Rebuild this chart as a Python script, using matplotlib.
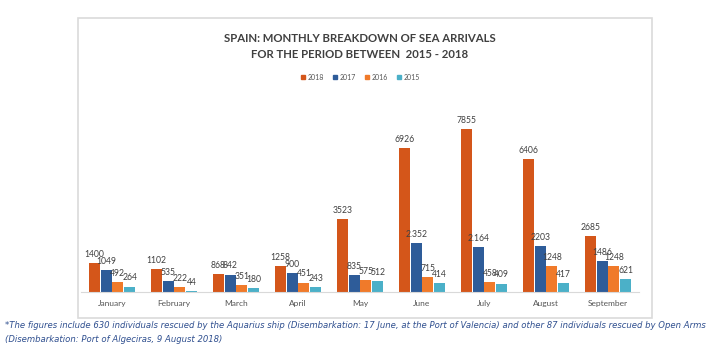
import matplotlib
matplotlib.use("Agg")
import matplotlib.pyplot as plt
from matplotlib.patches import Rectangle
import numpy as np

months = ["January", "February", "March", "April", "May", "June", "July", "August", "September"]
years = ["2018", "2017", "2016", "2015"]
v2018 = [1400, 1102, 868, 1258, 3523, 6926, 7855, 6406, 2685]
v2017 = [1049, 535, 842, 900, 835, 2352, 2164, 2203, 1486]
v2016 = [492, 222, 351, 451, 575, 715, 458, 1248, 1248]
v2015 = [264, 44, 180, 243, 512, 414, 409, 417, 621]
labels2017 = ["1049", "535", "842", "900", "835", "2.352", "2.164", "2203", "1486"]

series = [v2018, v2017, v2016, v2015]
colors = ["#D4561A", "#2E5C99", "#F07A2A", "#4BB0C8"]

plt.rcParams['font.family'] = ['Lato', 'DejaVu Sans']

fig = plt.figure(figsize=(7.2, 3.55), dpi=100)
W, H = 720, 355

# frame
fig.patches.append(Rectangle((78 / W, 1 - 318 / H), (652 - 78) / W, (318 - 18) / H,
                             transform=fig.transFigure, fill=False,
                             edgecolor="#DADADA", linewidth=1.2))

ax = fig.add_axes([81 / W, (H - 292) / H, 558 / W, 192 / H])
x = np.arange(len(months))
bw = 0.19
offsets = (np.arange(4) - 1.5) * bw
for i, (vals, c) in enumerate(zip(series, colors)):
    bars = ax.bar(x + offsets[i], vals, width=bw * 0.95, color=c, label=years[i], zorder=2)
    labs = labels2017 if i == 1 else [str(v) for v in vals]
    for b, t in zip(bars, labs):
        ax.annotate(t, (b.get_x() + b.get_width() / 2, b.get_height()),
                    xytext=(0, 3), textcoords="offset points",
                    ha="center", va="bottom", fontsize=6.2, color="#404040")

ax.set_xlim(-0.5, len(months) - 0.5)
ax.set_ylim(0, 9250)
ax.set_xticks(x)
ax.set_xticklabels(months, fontsize=6, color="#555555")
ax.tick_params(axis="x", length=0, pad=6)
ax.set_yticks([])
for s in ["top", "left", "right"]:
    ax.spines[s].set_visible(False)
ax.spines["bottom"].set_color("#D9D9D9")

fig.text(0.5, 1 - 38 / H, "SPAIN: MONTHLY BREAKDOWN OF SEA ARRIVALS", ha="center", va="center",
         fontsize=8.2, fontweight="bold", color="#404040")
fig.text(0.5, 1 - 55 / H, "FOR THE PERIOD BETWEEN  2015 - 2018", ha="center", va="center",
         fontsize=8.2, fontweight="bold", color="#404040")

handles = [plt.Line2D([], [], marker="s", linestyle="", color=c, markersize=3.5) for c in colors]
fig.legend(handles, years, loc="center", bbox_to_anchor=(0.5, 1 - 77 / H), ncol=4,
           frameon=False, fontsize=5, handletextpad=0.15, columnspacing=1.1,
           handlelength=1.0, labelcolor="#555555")

fig.text(5 / W, 1 - 326 / H,
         "*The figures include 630 individuals rescued by the Aquarius ship (Disembarkation: 17 June, at the Port of Valencia) and other 87 individuals rescued by Open Arms",
         ha="left", va="center", fontsize=6.1, style="italic", color="#2F4F8F",
         family=["DejaVu Sans"])
fig.text(5 / W, 1 - 339 / H,
         "(Disembarkation: Port of Algeciras, 9 August 2018)",
         ha="left", va="center", fontsize=6.1, style="italic", color="#2F4F8F",
         family=["DejaVu Sans"])

fig.savefig("out.png", dpi=100)
